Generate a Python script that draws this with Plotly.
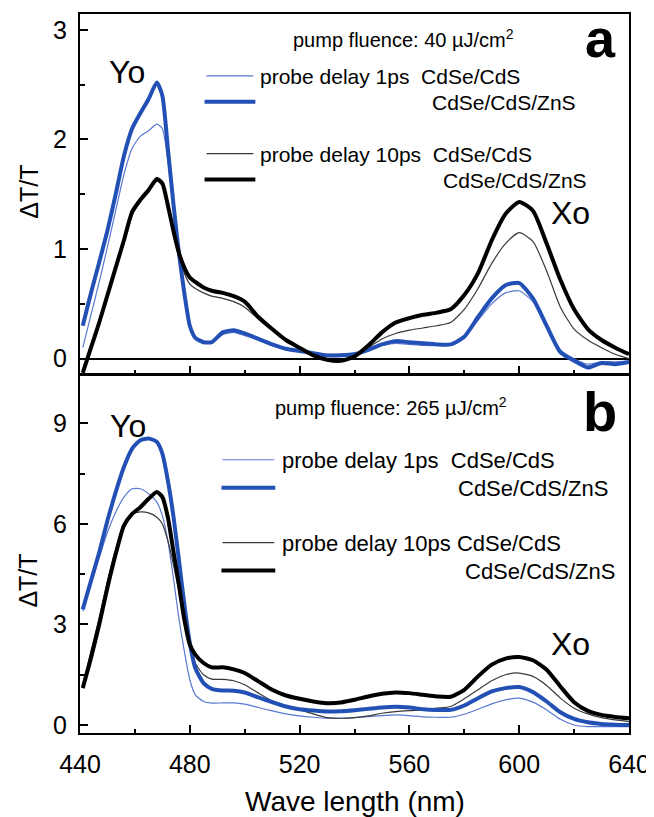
import plotly.graph_objects as go

# ---------------- data ----------------
wavelength = [441, 444, 447, 450, 453, 456, 459, 462, 465, 468, 470, 472, 474, 476, 478,
              480, 482, 485, 488, 492, 496, 500, 505, 510, 515, 520, 525, 530, 535, 540,
              545, 550, 555, 560, 565, 570, 575, 580, 585, 590, 595, 600, 605, 610, 615,
              620, 625, 630, 635, 640]

# panel a: pump fluence 40 uJ/cm2
a_1ps_cdse_cds = [0.10, 0.40, 0.70, 1.02, 1.35, 1.68, 1.92, 2.03, 2.08, 2.14, 2.10, 1.80, 1.38, 0.95, 0.58,
                  0.30, 0.19, 0.15, 0.15, 0.22, 0.24, 0.21, 0.17, 0.12, 0.09, 0.07, 0.05, 0.04, 0.04, 0.05,
                  0.09, 0.12, 0.14, 0.13, 0.12, 0.12, 0.13, 0.19, 0.35, 0.50, 0.60, 0.62, 0.52, 0.30, 0.08,
                  0.00, -0.05, -0.03, -0.03, -0.02]
a_1ps_cdse_cds_zns = [0.30, 0.60, 0.88, 1.17, 1.50, 1.85, 2.10, 2.24, 2.37, 2.52, 2.40, 1.92, 1.42, 0.97, 0.60,
                      0.30, 0.19, 0.15, 0.15, 0.24, 0.26, 0.23, 0.18, 0.13, 0.09, 0.07, 0.05, 0.03, 0.03, 0.04,
                      0.08, 0.13, 0.16, 0.15, 0.14, 0.13, 0.13, 0.20, 0.38, 0.55, 0.67, 0.69, 0.55, 0.30, 0.06,
                      -0.02, -0.08, -0.04, -0.05, -0.03]
a_10ps_cdse_cds = [-0.14, 0.08, 0.31, 0.56, 0.81, 1.06, 1.31, 1.43, 1.52, 1.62, 1.58, 1.38, 1.14, 0.93, 0.78,
                   0.68, 0.64, 0.60, 0.57, 0.55, 0.52, 0.47, 0.36, 0.26, 0.17, 0.10, 0.03, -0.01, -0.01, 0.02,
                   0.10, 0.18, 0.23, 0.26, 0.28, 0.30, 0.33, 0.45, 0.64, 0.87, 1.05, 1.15, 1.07, 0.80, 0.47,
                   0.27, 0.17, 0.10, 0.04, 0.00]
a_10ps_cdse_cds_zns = [-0.13, 0.10, 0.33, 0.58, 0.83, 1.08, 1.34, 1.45, 1.54, 1.64, 1.60, 1.40, 1.17, 0.97, 0.83,
                       0.74, 0.70, 0.65, 0.62, 0.60, 0.57, 0.52, 0.38, 0.27, 0.17, 0.10, 0.03, -0.01, -0.02, 0.02,
                       0.12, 0.24, 0.33, 0.37, 0.40, 0.42, 0.45, 0.58, 0.78, 1.08, 1.32, 1.43, 1.35, 1.05, 0.72,
                       0.45, 0.27, 0.17, 0.10, 0.04]

# panel b: pump fluence 265 uJ/cm2
b_1ps_cdse_cds = [3.40, 4.25, 5.00, 5.75, 6.35, 6.80, 7.05, 7.05, 6.90, 6.65, 6.25, 5.50, 4.40, 3.20, 2.20,
                  1.35, 0.90, 0.70, 0.65, 0.66, 0.66, 0.62, 0.52, 0.42, 0.33, 0.27, 0.23, 0.20, 0.20, 0.22,
                  0.25, 0.28, 0.30, 0.28, 0.24, 0.23, 0.23, 0.32, 0.47, 0.63, 0.75, 0.80, 0.68, 0.45, 0.17,
                  0.00, -0.05, -0.05, -0.05, -0.05]
b_1ps_cdse_cds_zns = [3.45, 4.30, 5.15, 6.10, 6.95, 7.70, 8.25, 8.50, 8.55, 8.45, 8.10, 7.30, 6.25, 4.95, 3.60,
                      2.45, 1.70, 1.25, 1.08, 1.03, 1.02, 0.97, 0.82, 0.68, 0.55, 0.47, 0.43, 0.40, 0.41, 0.44,
                      0.48, 0.52, 0.54, 0.52, 0.47, 0.45, 0.45, 0.58, 0.80, 1.00, 1.10, 1.13, 0.98, 0.70, 0.38,
                      0.18, 0.08, 0.03, 0.01, 0.00]
b_10ps_cdse_cds = [1.20, 2.20, 3.20, 4.30, 5.25, 6.00, 6.30, 6.36, 6.33, 6.20, 6.00, 5.50, 4.80, 4.00, 3.10,
                   2.40, 1.85, 1.50, 1.37, 1.36, 1.32, 1.20, 0.95, 0.72, 0.58, 0.45, 0.33, 0.22, 0.20, 0.22,
                   0.27, 0.35, 0.40, 0.43, 0.45, 0.50, 0.55, 0.78, 1.05, 1.32, 1.50, 1.55, 1.45, 1.18, 0.80,
                   0.50, 0.33, 0.22, 0.15, 0.10]
b_10ps_cdse_cds_zns = [1.10, 2.00, 3.00, 4.10, 5.10, 5.95, 6.30, 6.50, 6.75, 6.95, 6.80, 6.20, 5.20, 4.20, 3.15,
                       2.40, 2.10, 1.85, 1.72, 1.72, 1.66, 1.55, 1.30, 1.05, 0.88, 0.78, 0.70, 0.65, 0.67, 0.75,
                       0.85, 0.93, 0.97, 0.95, 0.90, 0.85, 0.84, 1.05, 1.45, 1.80, 1.98, 2.03, 1.93, 1.65, 1.15,
                       0.68, 0.42, 0.30, 0.24, 0.20]

x_ticks = [440, 480, 520, 560, 600, 640]
ya_ticks = [0, 1, 2, 3]
yb_ticks = [0, 3, 6, 9]

# ---------------- styles ----------------
FONT = "Liberation Sans, Arial, sans-serif"
BLUE_THICK = "#2350b5"
BLUE_THIN = "#5a78d2"
BLACK_THICK = "#000000"
BLACK_THIN = "#3a3a3a"

OFF = 8  # page body margin of the html page
W, H = 654 - OFF, 817 - OFF
L, R, T, B = 80 - OFF, 23, 12 - OFF, 84
PW, PH = W - L - R, H - T - B


def px(xp):
    return (xp - OFF - L) / PW


def py(yp):
    return (H - B - (yp - OFF)) / PH


fig = go.Figure()

series = [
    (a_1ps_cdse_cds, "x2", "y2", BLUE_THIN, 1.2),
    (a_10ps_cdse_cds, "x2", "y2", BLACK_THIN, 1.2),
    (a_1ps_cdse_cds_zns, "x2", "y2", BLUE_THICK, 4),
    (a_10ps_cdse_cds_zns, "x2", "y2", BLACK_THICK, 4),
    (b_1ps_cdse_cds, "x", "y", BLUE_THIN, 1.2),
    (b_10ps_cdse_cds, "x", "y", BLACK_THIN, 1.2),
    (b_1ps_cdse_cds_zns, "x", "y", BLUE_THICK, 4),
    (b_10ps_cdse_cds_zns, "x", "y", BLACK_THICK, 4),
]
for vals, xa, ya, col, wd in series:
    fig.add_trace(go.Scatter(x=wavelength, y=vals, xaxis=xa, yaxis=ya, mode="lines",
                             line=dict(color=col, width=wd, shape="spline", smoothing=0.6),
                             showlegend=False, hoverinfo="skip"))

axis_common = dict(showline=True, linecolor="black", linewidth=2, mirror=True,
                   ticks="inside", tickcolor="black", tickwidth=1.5, ticklen=8,
                   showgrid=False, tickfont=dict(family=FONT, size=25, color="black"))

fig.update_layout(
    width=W, height=H,
    margin=dict(l=L, r=R, t=T, b=B),
    paper_bgcolor="white", plot_bgcolor="white",
    font=dict(family=FONT, color="black"),
    xaxis=dict(range=[440, 640], anchor="y", tickvals=x_ticks, ticklabelstandoff=8,
               minor=dict(dtick=20, tick0=440, ticks="inside", ticklen=4, tickcolor="black", tickwidth=1.5),
               **axis_common),
    xaxis2=dict(range=[440, 640], anchor="y2", matches="x", tickvals=x_ticks, showticklabels=False,
                minor=dict(dtick=20, tick0=440, ticks="inside", ticklen=4, tickcolor="black", tickwidth=1.5),
                **axis_common),
    yaxis=dict(range=[-0.24, 10.46], domain=[0, 0.4986], anchor="x", tickvals=yb_ticks,
               zeroline=False, ticklabelstandoff=6,
               minor=dict(tickvals=[1.5, 4.5, 7.5], ticks="inside", ticklen=5, tickcolor="black", tickwidth=1.5),
               **axis_common),
    yaxis2=dict(range=[-0.14, 3.145], domain=[0.4993, 1], anchor="x2", tickvals=ya_ticks,
                zeroline=True, zerolinecolor="black", zerolinewidth=1.5, ticklabelstandoff=6,
                minor=dict(tickvals=[0.5, 1.5, 2.5], ticks="inside", ticklen=5, tickcolor="black", tickwidth=1.5),
                **axis_common),
)

ann = []


def text(s, xp, yp, size, xanchor="left", bold=False, angle=0):
    ann.append(dict(text=("<b>%s</b>" % s) if bold else s, x=px(xp), y=py(yp), xref="paper", yref="paper",
                    xanchor=xanchor, yanchor="middle", showarrow=False, textangle=angle,
                    font=dict(family=FONT, size=size, color="black")))


# panel a
text("pump fluence: 40 \u00b5J/cm<sup>2</sup>", 292, 37, 20)
text("probe delay 1ps\u00a0\u00a0CdSe/CdS", 259, 75, 21)
text("CdSe/CdS/ZnS", 431, 101, 21)
text("probe delay 10ps\u00a0\u00a0CdSe/CdS", 259, 153, 21)
text("CdSe/CdS/ZnS", 442, 179, 21)
text("a", 602, 36, 54, "center", bold=True)
text("Yo", 127, 70, 32, "center")
text("Xo", 572, 212, 32, "center")
# panel b
text("pump fluence: 265 \u00b5J/cm<sup>2</sup>", 274, 406, 20)
text("probe delay 1ps\u00a0\u00a0CdSe/CdS", 281, 460, 22)
text("CdSe/CdS/ZnS", 457, 488, 22)
text("probe delay 10ps CdSe/CdS", 281, 543, 22)
text("CdSe/CdS/ZnS", 464, 571, 22)
text("b", 602, 411, 56, "center", bold=True)
text("Yo", 128, 425, 32, "center")
text("Xo", 572, 644, 32, "center")
# axis titles
text("\u0394T/T", 28, 190, 25, "center", angle=-90)
text("\u0394T/T", 28, 580, 25, "center", angle=-90)
text("Wave length (nm)", 356, 802, 28, "center")
fig.update_layout(annotations=ann)

# legend line samples
samples = [
    (207, 254, 74, BLUE_THIN, 1.2), (205, 256, 100, BLUE_THICK, 4),
    (207, 254, 152, BLACK_THIN, 1.2), (205, 256, 178, BLACK_THICK, 4),
    (223, 275, 459, BLUE_THIN, 1.2), (222, 276, 487, BLUE_THICK, 4),
    (223, 275, 542, BLACK_THIN, 1.2), (222, 276, 570, BLACK_THICK, 4),
]
for x0, x1, yy, col, wd in samples:
    fig.add_shape(type="line", xref="paper", yref="paper", x0=px(x0), x1=px(x1), y0=py(yy), y1=py(yy),
                  line=dict(color=col, width=wd))

fig.write_html("out.html")
